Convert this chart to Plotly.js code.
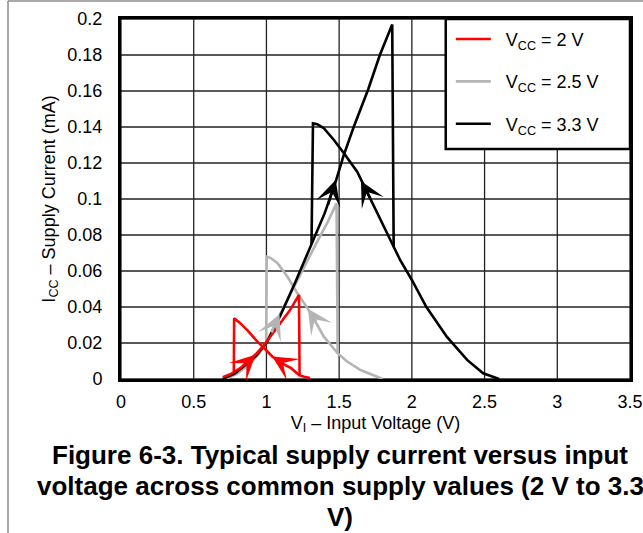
<!DOCTYPE html>
<html>
<head>
<meta charset="utf-8">
<script src="https://cdn.plot.ly/plotly-3.0.1.min.js"></script>
<style>
  html, body { margin: 0; padding: 0; background: #fff; }
  #chart { width: 643px; height: 533px; }
</style>
</head>
<body>
<div id="chart"></div>
<script>
// ---------- data ----------
// VCC = 2 V : up-sweep branch (then drop and short tail), down-sweep branch
const red_up_v = [0.70, 0.76, 0.82, 0.88, 0.93, 0.98, 1.04, 1.10, 1.16, 1.224, 1.228, 1.26, 1.30];
const red_up_i = [0.001, 0.003, 0.006, 0.0105, 0.014, 0.0185, 0.025, 0.031, 0.038, 0.0467, 0.002, 0.0012, 0.0005];
const red_dn_v = [1.228, 1.17, 1.10, 1.04, 0.98, 0.93, 0.87, 0.82, 0.778, 0.776];
const red_dn_i = [0.002, 0.006, 0.009, 0.0125, 0.0175, 0.0215, 0.027, 0.031, 0.0337, 0.004];

// VCC = 2.5 V
const gray_up_v = [0.72, 0.80, 0.88, 0.95, 1.00, 1.075, 1.167, 1.258, 1.35, 1.42, 1.482, 1.49, 1.55, 1.647, 1.72, 1.80];
const gray_up_i = [0.000, 0.003, 0.008, 0.014, 0.020, 0.033, 0.0476, 0.0624, 0.0765, 0.087, 0.0976, 0.0143, 0.010, 0.005, 0.0025, 0.000];
const gray_dn_v = [1.49, 1.44, 1.395, 1.35, 1.281, 1.213, 1.144, 1.075, 1.03, 1.002, 0.998];
const gray_dn_i = [0.0143, 0.019, 0.0235, 0.030, 0.0395, 0.0476, 0.0569, 0.0645, 0.0672, 0.068, 0.020];

// VCC = 3.3 V
const blk_up_v = [0.70, 0.78, 0.86, 0.93, 1.00, 1.10, 1.20, 1.31, 1.40, 1.47, 1.53, 1.60, 1.70, 1.78, 1.865, 1.875, 1.92, 2.00, 2.10, 2.24, 2.38, 2.49, 2.60];
const blk_up_i = [0.000, 0.003, 0.008, 0.013, 0.020, 0.036, 0.054, 0.075, 0.092, 0.108, 0.124, 0.140, 0.161, 0.180, 0.197, 0.0735, 0.066, 0.055, 0.040, 0.0235, 0.0106, 0.0032, 0.000];
const blk_dn_v = [1.875, 1.853, 1.785, 1.70, 1.624, 1.533, 1.464, 1.395, 1.35, 1.32, 1.31];
const blk_dn_i = [0.0735, 0.0772, 0.0883, 0.1025, 0.1152, 0.1254, 0.1328, 0.1393, 0.1415, 0.142, 0.075];

// direction arrows: tip and tail points on the curves
const arrow_tip_v  = [0.925, 1.04, 1.09, 1.285, 1.476, 1.65];
const arrow_tip_i  = [0.0135, 0.0125, 0.036, 0.039, 0.1106, 0.110];
const arrow_tail_v = [0.86, 1.12, 1.03, 1.35, 1.42, 1.72];
const arrow_tail_i = [0.0085, 0.0085, 0.025, 0.031, 0.096, 0.0995];
const arrow_series = [0, 0, 1, 1, 2, 2];

const series_names = ['V<sub>CC</sub> = 2 V', 'V<sub>CC</sub> = 2.5 V', 'V<sub>CC</sub> = 3.3 V'];
const series_colors = ['#ff0000', '#b4b4b4', '#000000'];

const x_ticks = [0, 0.5, 1, 1.5, 2, 2.5, 3, 3.5];
const x_tick_text = ['0', '0.5', '1', '1.5', '2', '2.5', '3', '3.5'];
const y_ticks = [0, 0.02, 0.04, 0.06, 0.08, 0.1, 0.12, 0.14, 0.16, 0.18, 0.2];
const y_tick_text = ['0', '0.02', '0.04', '0.06', '0.08', '0.1', '0.12', '0.14', '0.16', '0.18', '0.2'];

const x_title = 'V<sub>I</sub> – Input Voltage (V)';
const y_title = 'I<sub>CC</sub> – Supply Current (mA)';
const caption_lines = [
  'Figure 6-3. Typical supply current versus input',
  'voltage across common supply values (2 V to 3.3',
  'V)'
];

// ---------- build ----------
const FONT = 'Liberation Sans, Arial, Helvetica, sans-serif';
const NB = '\u00a0\u00a0';

function loop(upV, upI, dnV, dnI) {
  return {
    x: upV.concat([null], dnV),
    y: upI.concat([null], dnI)
  };
}
const loops = [
  loop(red_up_v, red_up_i, red_dn_v, red_dn_i),
  loop(gray_up_v, gray_up_i, gray_dn_v, gray_dn_i),
  loop(blk_up_v, blk_up_i, blk_dn_v, blk_dn_i)
];

// drawing order: gray, black, red (red on top); legend order: red, gray, black
const drawOrder = [1, 2, 0];
const traces = drawOrder.map(function (k) {
  return {
    type: 'scatter',
    mode: 'lines',
    x: loops[k].x,
    y: loops[k].y,
    connectgaps: false,
    name: NB + series_names[k],
    legendgroup: 'g' + k,
    legendrank: k + 1,
    line: { color: series_colors[k], width: 2.6, shape: 'linear' },
    hoverinfo: 'skip'
  };
});

const annotations = [];
for (let a = 0; a < arrow_tip_v.length; a++) {
  annotations.push({
    x: arrow_tip_v[a], y: arrow_tip_i[a], xref: 'x', yref: 'y',
    ax: arrow_tail_v[a], ay: arrow_tail_i[a], axref: 'x', ayref: 'y',
    text: '', showarrow: true, arrowhead: 3, arrowsize: 1.6, arrowwidth: 2.6,
    arrowcolor: series_colors[arrow_series[a]]
  });
}
const capY = [-0.212, -0.298, -0.384];
caption_lines.forEach(function (t, i) {
  annotations.push({
    text: t, xref: 'paper', yref: 'paper', x: 0.4303, y: capY[i],
    xanchor: 'center', yanchor: 'middle', showarrow: false,
    font: { family: FONT, size: 26, color: '#000', weight: 'bold' }
  });
});

const shapes = [];
// grid lines at the tick positions
x_ticks.forEach(function (v) {
  shapes.push({ type: 'line', xref: 'x', yref: 'paper', x0: v, x1: v, y0: 0, y1: 1,
    line: { color: '#222222', width: 1.3 }, layer: 'below' });
});
y_ticks.forEach(function (v) {
  shapes.push({ type: 'line', xref: 'paper', yref: 'y', x0: 0, x1: 1, y0: v, y1: v,
    line: { color: '#222222', width: 1.3 }, layer: 'below' });
});
// outer frame (left and top rules of the page)
shapes.push({ type: 'line', xref: 'paper', yref: 'paper', x0: -0.222, x1: -0.222, y0: 1.05, y1: -0.5,
  line: { color: '#8c8c8c', width: 1.5 } });
shapes.push({ type: 'line', xref: 'paper', yref: 'paper', x0: -0.222, x1: 1.1, y0: 1.05, y1: 1.05,
  line: { color: '#8c8c8c', width: 1.5 } });
// legend box
shapes.push({ type: 'rect', xref: 'paper', yref: 'paper', x0: 0.638, x1: 1.0, y0: 0.639, y1: 1.0,
  fillcolor: '#ffffff', line: { color: '#000', width: 2.5 }, layer: 'above' });

const axisFont = { family: FONT, size: 18, color: '#000' };

const layout = {
  width: 643, height: 533,
  margin: { l: 121, r: 13, t: 19, b: 154, pad: 0 },
  paper_bgcolor: '#fff', plot_bgcolor: 'rgba(0,0,0,0)',
  showlegend: true,
  legend: {
    x: 0.648, y: 0.995, xanchor: 'left', yanchor: 'top',
    bgcolor: 'rgba(0,0,0,0)', borderwidth: 0,
    font: { family: FONT, size: 18, color: '#000' },
    itemwidth: 35, traceorder: 'grouped', tracegroupgap: 16
  },
  xaxis: {
    range: [0, 3.5], tickmode: 'array', tickvals: x_ticks, ticktext: x_tick_text,
    showgrid: false,
    showline: true, linecolor: '#000', linewidth: 3, mirror: true,
    zeroline: false, ticks: '', tickfont: axisFont, ticklabelstandoff: 4,
    title: { text: x_title, font: axisFont, standoff: 6 },
    fixedrange: true
  },
  yaxis: {
    range: [0, 0.2], tickmode: 'array', tickvals: y_ticks, ticktext: y_tick_text,
    showgrid: false,
    showline: true, linecolor: '#000', linewidth: 3, mirror: true,
    zeroline: false, ticks: '', tickfont: axisFont, ticklabelstandoff: 12,
    title: { text: y_title, font: axisFont, standoff: 8 },
    fixedrange: true
  },
  annotations: annotations,
  shapes: shapes
};

Plotly.newPlot('chart', traces, layout, { displayModeBar: false, staticPlot: true });
</script>
</body>
</html>
